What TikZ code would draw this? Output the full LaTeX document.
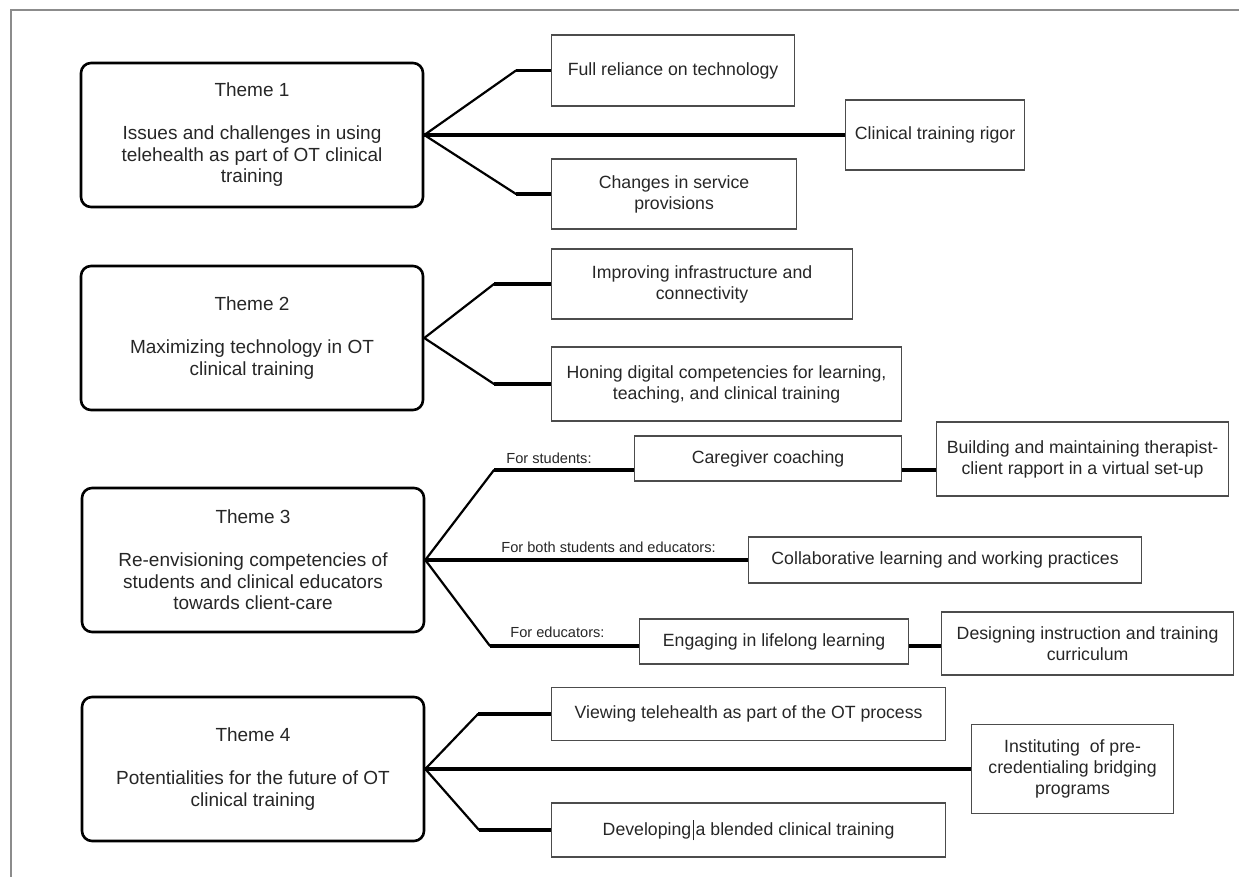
\documentclass[tikz,border=0pt]{standalone}
\usepackage{fontspec}
\setmainfont{Liberation Sans}
\usepackage{xcolor}
\usepackage{tikz}
\tikzstyle{theme} = [rectangle, rounded corners=5pt, minimum width=171pt, minimum height=72pt, align=center, draw=black, line width=1.3pt, text=black!85, font=\fontsize{9.5}{10.75}\selectfont]
\tikzstyle{leaf} = [rectangle, anchor=west, align=center, draw=black!70, line width=0.6pt, inner sep=2pt, text=black!85, font=\fontsize{8.85}{10.5}\selectfont]
\tikzstyle{tag} = [anchor=west, inner sep=0pt, text=black!85, font=\fontsize{7.3}{8}\selectfont]
\tikzstyle{link} = [line width=1.1pt, line cap=round]
\tikzstyle{stub} = [line width=1.6pt]
\tikzstyle{frame} = [draw=black!45, line width=0.6pt]

\begin{document}
\begin{tikzpicture}[x=0.5pt, y=-0.5pt]
\useasboundingbox (0,0) rectangle (1239,877);
\draw [frame] (11,877) -- (11,10) -- (1239,10);

% Themes
\node (t1) [theme] at (252,135) {Theme 1\\[10.75pt]Issues and challenges in using\\telehealth as part of OT clinical\\training};
\node (t2) [theme] at (252,338) {Theme 2\\[10.75pt]Maximizing technology in OT\\clinical training};
\node (t3) [theme] at (253,560) {Theme 3\\[10.75pt]Re-envisioning competencies of\\students and clinical educators\\towards client-care};
\node (t4) [theme] at (253,769) {Theme 4\\[10.75pt]Potentialities for the future of OT\\clinical training};

% Subthemes
\node (l11) [leaf, minimum width=121.5pt, minimum height=35.5pt] at (551,70.5) {Full reliance on technology};
\node (l12) [leaf, minimum width=89.5pt, minimum height=35pt] at (845,135) {Clinical training rigor};
\node (l13) [leaf, minimum width=122.5pt, minimum height=35pt] at (551,194) {Changes in service\\provisions};
\node (l21) [leaf, minimum width=150.5pt, minimum height=35pt] at (551,284) {Improving infrastructure and\\connectivity};
\node (l22) [leaf, minimum width=175pt, minimum height=37pt] at (551,384) {Honing digital competencies for learning,\\teaching, and clinical training};
\node (l31) [leaf, minimum width=133.5pt, minimum height=22.5pt] at (634,458.5) {Caregiver coaching};
\node (l32) [leaf, minimum width=146pt, minimum height=37pt] at (936,459) {Building and maintaining therapist-\\client rapport in a virtual set-up};
\node (l33) [leaf, minimum width=196.5pt, minimum height=23pt] at (748,560) {Collaborative learning and working practices};
\node (l34) [leaf, minimum width=134.5pt, minimum height=22.5pt] at (639,641.5) {Engaging in lifelong learning};
\node (l35) [leaf, minimum width=146pt, minimum height=31.5pt] at (941,643.5) {Designing instruction and training\\curriculum};
\node (l41) [leaf, minimum width=197pt, minimum height=26.5pt] at (551,714) {Viewing telehealth as part of the OT process};
\node (l42) [leaf, minimum width=101pt, minimum height=44.5pt] at (971,769) {Instituting~ of pre-\\credentialing bridging\\programs};
\node (l43) [leaf, minimum width=197pt, minimum height=27pt] at (551,830) {Developing\hspace{0.8pt}\rule[-2.6pt]{0.6pt}{10.4pt}\hspace{0.8pt}a blended clinical training};

% Labels
\node (lab1) [tag] at (506,458) {For students:};
\node (lab2) [tag] at (501,547) {For both students and educators:};
\node (lab3) [tag] at (510,632) {For educators:};

% Bends
\coordinate (b11) at (516,70.5);
\coordinate (b13) at (516,194);
\coordinate (b21) at (494,284);
\coordinate (b22) at (494,384);
\coordinate (b31) at (494,470);
\coordinate (b33) at (490,646);
\coordinate (b41) at (478,714);
\coordinate (b43) at (479,830);

% Lines
\draw [link] (t1.east) -- (b11);
\draw [stub] (b11) -- (l11.west);
\draw [stub] (t1.east) -- (l12.west);
\draw [link] (t1.east) -- (b13);
\draw [stub] (b13) -- (l13.west);

\draw [link] (t2.east) -- (b21);
\draw [stub] (b21) -- (l21.west);
\draw [link] (t2.east) -- (b22);
\draw [stub] (b22) -- (l22.west);

\draw [link] (t3.east) -- (b31);
\draw [stub] (b31) -- (b31 -| l31.west);
\draw [stub] (l31.east |- b31) -- (l32.west |- b31);
\draw [stub] (t3.east) -- (l33.west);
\draw [link] (t3.east) -- (b33);
\draw [stub] (b33) -- (b33 -| l34.west);
\draw [stub] (l34.east |- b33) -- (l35.west |- b33);

\draw [link] (t4.east) -- (b41);
\draw [stub] (b41) -- (l41.west);
\draw [stub] (t4.east) -- (l42.west);
\draw [link] (t4.east) -- (b43);
\draw [stub] (b43) -- (l43.west);
\end{tikzpicture}
\end{document}
